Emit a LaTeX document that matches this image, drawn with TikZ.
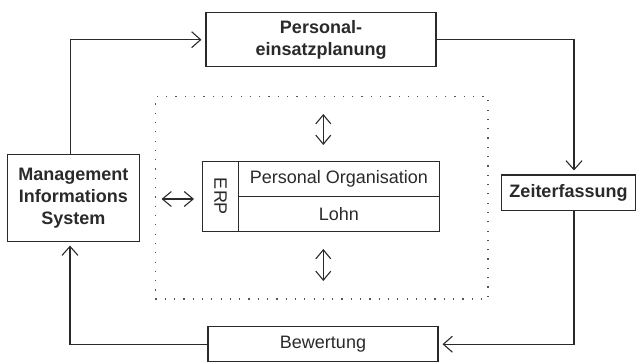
\documentclass[tikz,border=0pt]{standalone}
\usepackage{fontspec}
\setmainfont{Liberation Sans}
\usetikzlibrary{arrows.meta}
\definecolor{ink}{HTML}{2A2A2A}
\definecolor{dotc}{HTML}{555555}
\begin{document}
\begin{tikzpicture}[x=1pt,y=-1pt,
  box/.style={draw=ink,line width=1.1pt,text=ink,inner sep=0pt,align=center,
    font=\fontsize{18}{22}\selectfont},
  bbox/.style={box,font=\fontsize{18}{22}\selectfont\bfseries},
  conn/.style={draw=ink,line width=1.1pt,-{Straight Barb[length=9pt,width=16pt]},shorten >=4pt},
  dbl/.style={draw=ink,line width=1.1pt,{Straight Barb[length=9pt,width=15pt]}-{Straight Barb[length=9pt,width=15pt]}}
]
\useasboundingbox (0,0) rectangle (636,363);
% main boxes
\node[bbox,minimum width=230pt,minimum height=54pt] (pers) at (321,39.7) {Personal-\\einsatzplanung};
\node[bbox,minimum width=132.3pt,minimum height=86.7pt] (mis) at (73.4,197.7) {Management\\Informations\\System};
\node[bbox,minimum width=134pt,minimum height=35.7pt] (zeit) at (568.5,192.9) {Zeiterfassung};
\node[box,minimum width=230pt,minimum height=35pt] (bew) at (323,344.2) {Bewertung};
% dotted frame
\node[draw=dotc,line width=1.2pt,dash pattern=on 1.2pt off 8.1pt,minimum width=332.6pt,minimum height=202.3pt,inner sep=0pt] (frame) at (321.7,197.85) {};
% ERP table
\node[box,minimum width=35.7pt,minimum height=70.4pt] (erp) at (220.65,196.5) {\rotatebox{-90}{ERP}};
\node[box,minimum width=200.9pt,minimum height=35.4pt] (po) at (338.95,179) {Personal Organisation};
\node[box,minimum width=200.9pt,minimum height=35pt] (lohn) at (338.95,214.2) {Lohn};
% double arrows
\coordinate (ua) at (323.3,114);
\coordinate (ub) at (323.3,145);
\coordinate (da) at (323.3,249);
\coordinate (db) at (323.3,281);
\coordinate (la) at (161.5,199);
\coordinate (lb) at (194,199);
\draw[dbl] (ua) -- (ub);
\draw[dbl] (da) -- (db);
\draw[dbl] (la) -- (lb);
% loop connectors
\coordinate (rc) at (574,39.7);
\coordinate (rb) at (574,344.2);
\coordinate (lc) at (70,344.2);
\draw[conn] ([xshift=-2.5pt]mis.north) |- (pers.west);
\draw[conn] (pers.east) -| (zeit.north -| rc);
\draw[conn] (zeit.south -| rc) |- (bew.east);
\draw[conn] (bew.west) -| (mis.south -| lc);
\end{tikzpicture}
\end{document}
